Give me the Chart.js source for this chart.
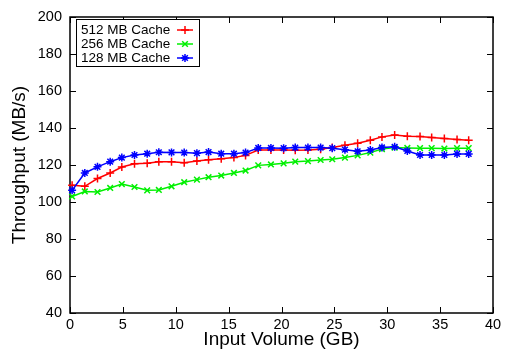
<!DOCTYPE html>
<html>
<head>
<meta charset="utf-8">
<script src="https://cdn.jsdelivr.net/npm/chart.js@4.4.1/dist/chart.umd.min.js"></script>
<style>
  html, body { margin: 0; padding: 0; background: #fff; }
  #wrap { width: 505px; height: 350px; }
</style>
</head>
<body>
<div id="wrap"><canvas id="chart"></canvas></div>
<script>
// input volume (GB) of each measurement
const volumeGB = [0.2, 1.4, 2.6, 3.8, 4.9, 6.1, 7.3, 8.4, 9.6, 10.8, 12.0, 13.1, 14.3, 15.5, 16.6, 17.8, 19.0,
                  20.2, 21.3, 22.5, 23.7, 24.8, 26.0, 27.2, 28.4, 29.5, 30.7, 31.9, 33.1, 34.2, 35.4, 36.6, 37.7];
// throughput (MB/s)
const cache512 = [109, 108.5, 112.7, 115.7, 118.9, 120.7, 120.9, 121.8, 121.8, 121.2, 122.1, 122.9, 123.4, 124, 125.2, 128.1, 128.1,
                  128.1, 128, 128.1, 128.5, 129.4, 130.7, 131.8, 133.4, 135.2, 136.2, 135.6, 135.4, 134.9, 134.3, 133.8, 133.4];
const cache256 = [103, 105.7, 105.4, 107.6, 109.7, 108.1, 106.3, 106.5, 108.5, 110.7, 112.1, 113.4, 114.3, 115.7, 117, 119.8, 120.3,
                  120.9, 121.8, 122.1, 122.7, 123.1, 124, 125.2, 126.7, 128.6, 129.4, 129.2, 129.1, 129.1, 128.9, 129.1, 129.1];
const cache128 = [106.3, 115.7, 119, 121.8, 124, 125.4, 126.1, 126.9, 126.8, 126.7, 126.4, 127, 126.1, 126.1, 126.7, 129.2, 129.2,
                  129.1, 129.4, 129.4, 129.4, 129.1, 128.3, 127.4, 128.1, 129.5, 129.8, 127.6, 125.4, 125.4, 125.4, 126, 126];
const seriesLabels = ['512 MB Cache', '256 MB Cache', '128 MB Cache'];
const xTicks = [0, 5, 10, 15, 20, 25, 30, 35, 40];
const yTicks = [40, 60, 80, 100, 120, 140, 160, 180, 200];

const FONT = '"Liberation Sans", Arial, Helvetica, sans-serif';

function pts(ys) {
  return ys.map((y, i) => ({ x: volumeGB[i], y: y }));
}

// gnuplot-like box with inward ticks on all four sides
const framePlugin = {
  id: 'frame',
  beforeDatasetsDraw(chart) {
    const ctx = chart.ctx;
    const a = chart.chartArea;
    const xs = chart.scales.x, ys = chart.scales.y;
    const len = 6;
    ctx.save();
    ctx.strokeStyle = '#000';
    ctx.lineWidth = 1.5;
    ctx.strokeRect(a.left, a.top, a.right - a.left, a.bottom - a.top);
    ctx.lineWidth = 1;
    ctx.beginPath();
    xTicks.forEach(v => {
      const px = Math.round(xs.getPixelForValue(v)) + 0.5;
      ctx.moveTo(px, a.bottom); ctx.lineTo(px, a.bottom - len);
      ctx.moveTo(px, a.top); ctx.lineTo(px, a.top + len);
    });
    yTicks.forEach(v => {
      const py = Math.round(ys.getPixelForValue(v)) + 0.5;
      ctx.moveTo(a.left, py); ctx.lineTo(a.left + len, py);
      ctx.moveTo(a.right, py); ctx.lineTo(a.right - len, py);
    });
    ctx.stroke();
    ctx.restore();
  },
  afterDatasetsDraw(chart) {
    // legend: text first, sample line on the right
    const ctx = chart.ctx;
    const a = chart.chartArea;
    const bx = a.left + 6, by = a.top + 2, bw = 123, bh = 47;
    ctx.save();
    ctx.fillStyle = '#fff';
    ctx.fillRect(bx, by, bw, bh);
    ctx.strokeStyle = '#000';
    ctx.lineWidth = 1;
    ctx.strokeRect(bx + 0.5, by + 0.5, bw, bh);
    ctx.font = '13.5px ' + FONT;
    ctx.textBaseline = 'middle';
    ctx.textAlign = 'left';
    chart.data.datasets.forEach((ds, i) => {
      const ty = by + 11 + i * 14;
      ctx.fillStyle = '#000';
      ctx.fillText(ds.label, bx + 5, ty);
      ctx.strokeStyle = ds.borderColor;
      ctx.lineWidth = 1.5;
      ctx.beginPath();
      ctx.moveTo(bx + 101, ty); ctx.lineTo(bx + 117, ty);
      ctx.stroke();
      Chart.helpers.drawPoint(ctx, {
        pointStyle: ds.pointStyle, radius: ds.pointRadius, rotation: 0,
        borderWidth: 1.5
      }, bx + 109, ty);
    });
    ctx.restore();
  }
};

new Chart(document.getElementById('chart'), {
  type: 'line',
  data: {
    datasets: [
      { label: seriesLabels[0], data: pts(cache512), borderColor: '#ff0000', backgroundColor: '#ff0000',
        pointStyle: 'cross', order: 2 },
      { label: seriesLabels[1], data: pts(cache256), borderColor: '#00f000', backgroundColor: '#00f000',
        pointStyle: 'crossRot', order: 1 },
      { label: seriesLabels[2], data: pts(cache128), borderColor: '#0000ff', backgroundColor: '#0000ff',
        pointStyle: 'star', order: 0 }
    ].map(d => Object.assign(d, {
      borderWidth: 1.5, pointRadius: 4, pointBorderWidth: 1.5, pointBorderColor: d.borderColor,
      tension: 0, fill: false, clip: 6
    }))
  },
  options: {
    responsive: true,
    maintainAspectRatio: false,
    animation: false,
    events: [],
    layout: { padding: { top: 17, right: 12, left: 0, bottom: 0 } },
    plugins: { legend: { display: false }, tooltip: { enabled: false } },
    scales: {
      x: {
        type: 'linear', min: 0, max: 40,
        afterFit: s => { s.height = 37; },
        afterBuildTicks: s => { s.ticks = xTicks.map(v => ({ value: v })); },
        grid: { display: false, drawTicks: false },
        border: { display: false },
        ticks: { padding: 3, color: '#000', font: { family: FONT, size: 14.5 }, maxRotation: 0 },
        title: { display: true, text: 'Input Volume (GB)', color: '#000',
                 font: { family: FONT, size: 19, lineHeight: 1.05 }, padding: 0 }
      },
      y: {
        type: 'linear', min: 40, max: 200,
        afterFit: s => { s.width = 70; },
        afterBuildTicks: s => { s.ticks = yTicks.map(v => ({ value: v })); },
        grid: { display: false, drawTicks: false },
        border: { display: false },
        ticks: { padding: 8, color: '#000', font: { family: FONT, size: 14.5 } },
        title: { display: true, text: 'Throughput (MB/s)', color: '#000',
                 font: { family: FONT, size: 19, lineHeight: 1.2 }, padding: { top: 8, bottom: 0 } }
      }
    }
  },
  plugins: [framePlugin]
});
</script>
</body>
</html>
